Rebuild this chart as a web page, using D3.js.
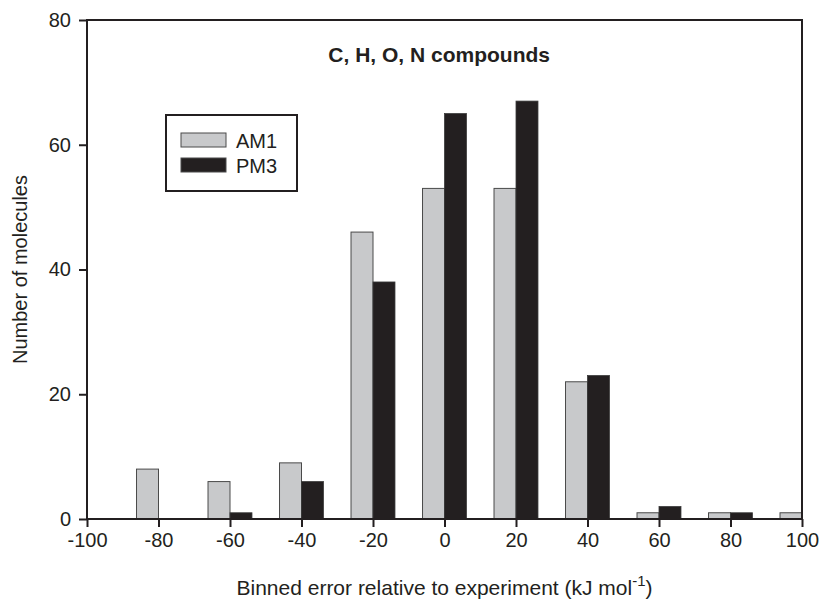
<!DOCTYPE html>
<html>
<head>
<meta charset="utf-8">
<script src="https://cdn.jsdelivr.net/npm/d3@7"></script>
<style>
  body { margin: 0; background: #fff; }
  text { font-family: "Liberation Sans", Arial, sans-serif; fill: #231f20; }
</style>
</head>
<body>
<div id="vis"><svg></svg></div>
<script>
// bins (kJ/mol) and counts per method
const bins = [-80, -60, -40, -20, 0, 20, 40, 60, 80, 100];
const am1 = [8, 6, 9, 46, 53, 53, 22, 1, 1, 1];
const pm3 = [0, 1, 6, 38, 65, 67, 23, 2, 1, 0];
const xTicks = [-100, -80, -60, -40, -20, 0, 20, 40, 60, 80, 100];
const yTicks = [0, 20, 40, 60, 80];
const seriesNames = ["AM1", "PM3"];
const seriesColors = ["#c8c9cb", "#231f20"];

var margin = {top: 20, right: 21, bottom: 81, left: 87},
    width = 823 - margin.left - margin.right,
    height = 600 - margin.top - margin.bottom;
const ink = "#231f20";
const barW = 6.15; // bar width in data units

var svg = d3.select("#vis").select("svg")
  .attr("width", 823)
  .attr("height", 600);
var g = svg.append("g")
  .attr("transform", "translate(" + margin.left + "," + margin.top + ")");

const x = d3.scaleLinear().domain([-100, 100]).range([0, width]);
const y = d3.scaleLinear().domain([0, 80]).range([height, 0]);

// bars
const rows = bins.map((b, i) => ({bin: b, am1: am1[i], pm3: pm3[i]}));
g.selectAll("rect.am1")
  .data(rows.filter(d => d.am1 > 0))
  .join("rect")
  .attr("class", "am1")
  .attr("x", d => x(d.bin - barW))
  .attr("width", d => x(d.bin) - x(d.bin - barW))
  .attr("y", d => y(d.am1))
  .attr("height", d => y(0) - y(d.am1))
  .attr("fill", seriesColors[0])
  .attr("stroke", "#4a4a4a")
  .attr("stroke-width", 1);
g.selectAll("rect.pm3")
  .data(rows.filter(d => d.pm3 > 0))
  .join("rect")
  .attr("class", "pm3")
  .attr("x", d => x(d.bin))
  .attr("width", d => x(d.bin + barW) - x(d.bin))
  .attr("y", d => y(d.pm3))
  .attr("height", d => y(0) - y(d.pm3))
  .attr("fill", seriesColors[1])
  .attr("stroke", "#3a3a3a")
  .attr("stroke-width", 0.8);

// frame
g.append("rect")
  .attr("width", width).attr("height", height)
  .attr("fill", "none").attr("stroke", ink).attr("stroke-width", 2);

// axes (plain hyphen for negatives, like the original)
const fmt = d => String(d);
const xAxisG = g.append("g")
  .attr("transform", `translate(0, ${height})`)
  .call(d3.axisBottom(x).tickValues(xTicks).tickSize(8).tickPadding(6).tickFormat(fmt));
const yAxisG = g.append("g")
  .call(d3.axisLeft(y).tickValues(yTicks).tickSize(8).tickPadding(8).tickFormat(fmt));
[xAxisG, yAxisG].forEach(a => {
  a.select(".domain").remove();
  a.selectAll("line").attr("stroke", ink).attr("stroke-width", 2);
  a.selectAll("text").attr("font-size", 20).attr("fill", ink)
    .style("font-family", '"Liberation Sans", Arial, sans-serif');
});
xAxisG.selectAll("text").attr("dy", "0.72em");

// title
g.append("text")
  .attr("x", x(-1.5)).attr("y", 42)
  .attr("text-anchor", "middle")
  .attr("font-size", 21).attr("font-weight", "bold")
  .text("C, H, O, N compounds");

// axis labels
svg.append("text")
  .attr("transform", `translate(27, ${margin.top + height / 2}) rotate(-90)`)
  .attr("text-anchor", "middle")
  .attr("font-size", 20)
  .text("Number of molecules");

const xl = svg.append("text")
  .attr("x", margin.left + width / 2).attr("y", 595)
  .attr("text-anchor", "middle")
  .attr("font-size", 21);
xl.append("tspan").text("Binned error relative to experiment (kJ mol");
xl.append("tspan").attr("dy", -9).attr("font-size", 15).text("-1");
xl.append("tspan").attr("dy", 9).text(")");

// legend
const lg = svg.append("g").attr("transform", "translate(166, 115)");
lg.append("rect").attr("width", 131).attr("height", 76)
  .attr("fill", "#fff").attr("stroke", ink).attr("stroke-width", 2);
seriesNames.forEach((name, i) => {
  lg.append("rect")
    .attr("x", 15).attr("y", 18 + i * 25)
    .attr("width", 45).attr("height", 14)
    .attr("fill", seriesColors[i])
    .attr("stroke", "#4a4a4a").attr("stroke-width", 1);
  lg.append("text")
    .attr("x", 70).attr("y", 33 + i * 25)
    .attr("font-size", 20)
    .text(name);
});
</script>
</body>
</html>
